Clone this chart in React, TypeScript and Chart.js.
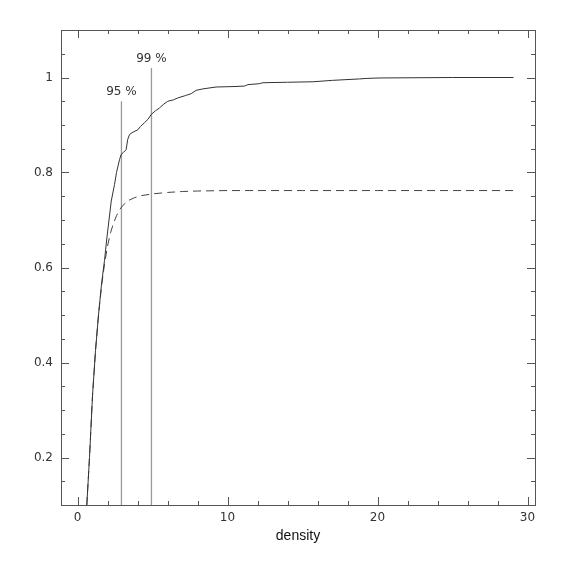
import React, { useEffect, useRef } from "react";
import { Chart, registerables } from "chart.js";

Chart.register(...registerables);

// Empirical cumulative curve (solid)
const solidX = [0.62, 0.8, 1.0, 1.2, 1.4, 1.6, 1.8, 1.95, 2.1, 2.25, 2.47, 2.6, 2.8, 2.91, 3.05, 3.24, 3.35, 3.47, 3.7, 4.02, 4.2, 4.47, 4.7, 4.91, 5.2, 5.47, 5.75, 6.02, 6.4, 6.69, 7.2, 7.58, 7.91, 8.36, 9.24, 10.5, 11.13, 11.36, 12.13, 12.36, 14, 15.69, 17, 18.8, 19.24, 20.1, 25, 29.07];
const solidY = [0.10, 0.20, 0.33, 0.425, 0.50, 0.565, 0.615, 0.66, 0.70, 0.74, 0.775, 0.80, 0.827, 0.838, 0.842, 0.848, 0.87, 0.88, 0.885, 0.89, 0.897, 0.905, 0.912, 0.922, 0.93, 0.936, 0.944, 0.95, 0.953, 0.957, 0.962, 0.966, 0.973, 0.976, 0.98, 0.981, 0.982, 0.985, 0.987, 0.989, 0.99, 0.991, 0.994, 0.997, 0.998, 0.999, 1.0, 1.0];

// Model curve (dashed)
const dashedX = [0.62, 0.8, 1.0, 1.2, 1.4, 1.6, 1.8, 2.0, 2.2, 2.4, 2.6, 2.8, 3.0, 3.4, 3.8, 4.2, 5, 6, 7, 8, 10, 15, 20, 29.07];
const dashedY = [0.10, 0.20, 0.33, 0.425, 0.50, 0.56, 0.607, 0.645, 0.673, 0.693, 0.709, 0.721, 0.73, 0.741, 0.747, 0.751, 0.755, 0.758, 0.76, 0.761, 0.762, 0.762, 0.762, 0.762];

// Percentile markers
const markerX = [2.93, 4.93];
const markerTop = [0.95, 1.02];
const markerLabels = ["95 %", "99 %"];

// Axes
const xMin = -1.1;
const xMax = 30.5;
const yMin = 0.1;
const yMax = 1.1;
const xMajorTicks = [0, 10, 20, 30];
const xMinorTicks = [2, 4, 6, 8, 12, 14, 16, 18, 22, 24, 26, 28];
const yMajorTicks = [0.2, 0.4, 0.6, 0.8, 1.0];
const yMinorTicks = [0.15, 0.25, 0.3, 0.35, 0.45, 0.5, 0.55, 0.65, 0.7, 0.75, 0.85, 0.9, 0.95, 1.05];
const xTitle = "density";

const frameColor = "#555555";

const framePlugin = {
  id: "frameTicks",
  afterDatasetsDraw(chart: any) {
    const { ctx, chartArea: ca, scales } = chart;
    const xs = scales.x;
    const ys = scales.y;
    ctx.save();
    ctx.strokeStyle = frameColor;
    ctx.lineWidth = 1;
    ctx.strokeRect(Math.round(ca.left) + 0.5, Math.round(ca.top) + 0.5, Math.round(ca.right - ca.left), Math.round(ca.bottom - ca.top));
    const drawX = (vals: number[], len: number) => {
      vals.forEach((v) => {
        const px = Math.round(xs.getPixelForValue(v)) + 0.5;
        ctx.beginPath();
        ctx.moveTo(px, ca.bottom);
        ctx.lineTo(px, ca.bottom - len);
        ctx.moveTo(px, ca.top);
        ctx.lineTo(px, ca.top + len);
        ctx.stroke();
      });
    };
    const drawY = (vals: number[], len: number) => {
      vals.forEach((v) => {
        const py = Math.round(ys.getPixelForValue(v)) + 0.5;
        ctx.beginPath();
        ctx.moveTo(ca.left, py);
        ctx.lineTo(ca.left + len, py);
        ctx.moveTo(ca.right, py);
        ctx.lineTo(ca.right - len, py);
        ctx.stroke();
      });
    };
    drawX(xMajorTicks, 8);
    drawX(xMinorTicks, 4);
    drawY(yMajorTicks, 8);
    drawY(yMinorTicks, 4);

    // marker labels
    ctx.fillStyle = "#333333";
    ctx.font = "12px 'DejaVu Sans'";
    ctx.textAlign = "center";
    ctx.textBaseline = "alphabetic";
    markerX.forEach((mx, i) => {
      const px = xs.getPixelForValue(mx);
      const py = ys.getPixelForValue(markerTop[i]);
      ctx.fillText(markerLabels[i], px, py - 6);
    });
    ctx.restore();
  },
};

export default function App() {
  const canvasRef = useRef<HTMLCanvasElement | null>(null);

  useEffect(() => {
    document.body.style.margin = "0";
    const canvas = canvasRef.current;
    if (!canvas) return;

    const markerDatasets = markerX.map((mx, i) => ({
      label: markerLabels[i],
      data: [
        { x: mx, y: yMin },
        { x: mx, y: markerTop[i] },
      ],
      borderColor: "#999999",
      borderWidth: 1.3,
      pointRadius: 0,
      fill: false,
    }));

    const chart = new Chart(canvas, {
      type: "line",
      data: {
        datasets: [
          {
            label: "cumulative",
            data: solidX.map((x, i) => ({ x, y: solidY[i] })),
            borderColor: "#333333",
            borderWidth: 1,
            pointRadius: 0,
            tension: 0,
            fill: false,
          },
          {
            label: "model",
            data: dashedX.map((x, i) => ({ x, y: dashedY[i] })),
            borderColor: "#444444",
            borderWidth: 1,
            borderDash: [8, 5],
            pointRadius: 0,
            tension: 0,
            fill: false,
          },
          ...markerDatasets,
        ],
      },
      options: {
        animation: false,
        responsive: false,
        maintainAspectRatio: false,
        layout: { padding: { left: 0, top: 30, right: 30, bottom: 0 } },
        plugins: {
          legend: { display: false },
          tooltip: { enabled: false },
        },
        scales: {
          x: {
            type: "linear",
            min: xMin,
            max: xMax,
            afterBuildTicks: (scale: any) => {
              scale.ticks = xMajorTicks.map((v) => ({ value: v }));
            },
            afterFit: (scale: any) => {
              scale.height = 60;
            },
            grid: { display: false, drawTicks: false, tickLength: 0 },
            border: { display: false },
            ticks: {
              padding: 6,
              color: "#333333",
              font: { family: "DejaVu Sans", size: 12 },
              maxRotation: 0,
              autoSkip: false,
              callback: (v: any) => String(Math.round(Number(v))),
            },
            title: {
              display: true,
              text: xTitle,
              color: "#111111",
              font: { family: "Liberation Sans", size: 14 },
              padding: { top: 0, bottom: 20 },
            },
          },
          y: {
            type: "linear",
            min: yMin,
            max: yMax,
            afterBuildTicks: (scale: any) => {
              scale.ticks = yMajorTicks.map((v) => ({ value: v }));
            },
            afterFit: (scale: any) => {
              scale.width = 61;
            },
            grid: { display: false, drawTicks: false, tickLength: 0 },
            border: { display: false },
            ticks: {
              padding: 8,
              color: "#333333",
              autoSkip: false,
              font: { family: "DejaVu Sans", size: 12 },
              callback: (v: any) => String(Number(Number(v).toFixed(2))),
            },
          },
        },
      },
      plugins: [framePlugin],
    } as any);

    return () => chart.destroy();
  }, []);

  return (
    <div style={{ width: 565, height: 565 }}>
      <canvas ref={canvasRef} width={565} height={565} style={{ display: "block" }} />
    </div>
  );
}
